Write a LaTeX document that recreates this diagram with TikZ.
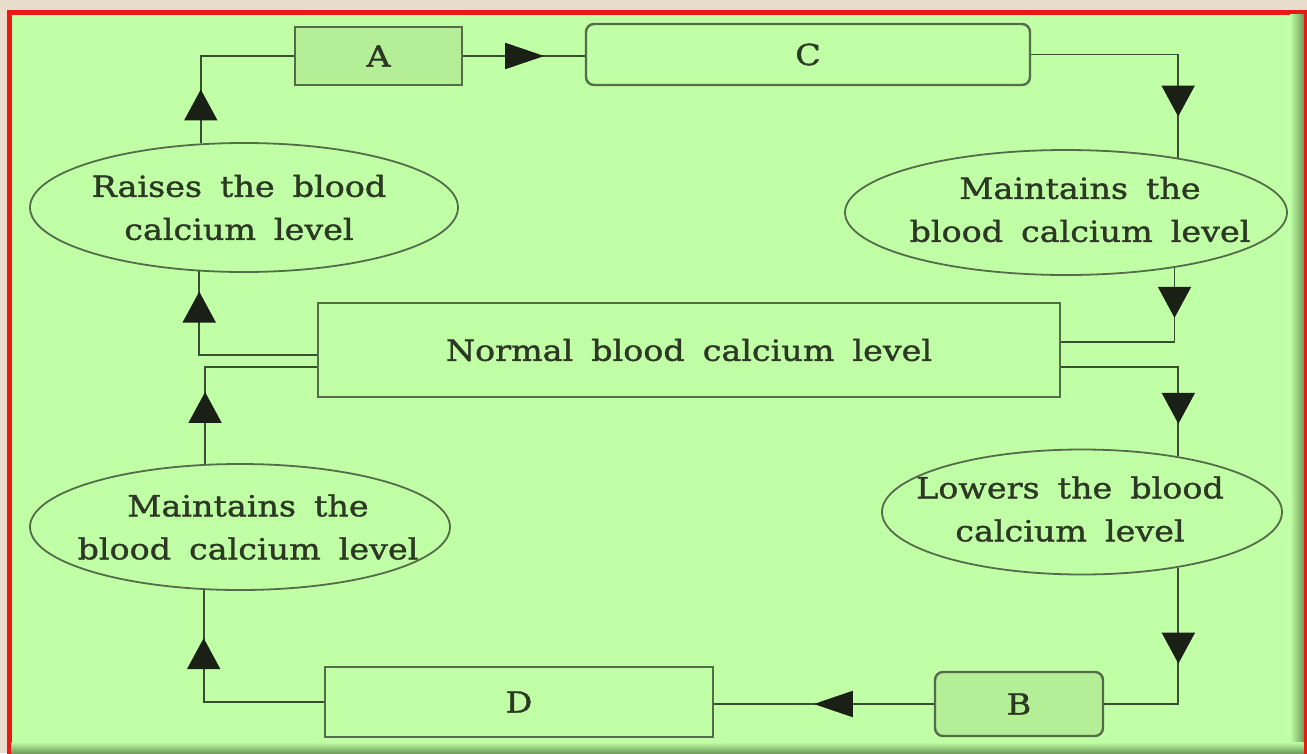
\documentclass[tikz,border=0pt]{standalone}
\usepackage{fontspec}
\setmainfont{DejaVu Serif}[FakeStretch=1.15,FakeBold=1.3]
\usepackage{tikz}
\usetikzlibrary{arrows.meta,shapes}
\usetikzlibrary{positioning,decorations.markings}
\definecolor{paperclr}{RGB}{233,222,204}
\definecolor{frameclr}{RGB}{236,24,20}
\definecolor{panelclr}{RGB}{192,255,165}
\definecolor{shadeclr}{RGB}{110,158,90}
\definecolor{boxclr}{RGB}{180,238,150}
\definecolor{edgeclr}{RGB}{84,108,74}
\definecolor{wireclr}{RGB}{58,78,50}
\definecolor{tipclr}{RGB}{26,32,22}
\definecolor{inkclr}{RGB}{44,56,36}
\newcommand{\diagfont}{\fontsize{29}{43}\selectfont\spaceskip 18pt\relax}
\tikzstyle{oval} = [draw=edgeclr, ellipse, line width=1.8pt, inner sep=0pt]
\tikzstyle{block} = [draw=edgeclr, rectangle, line width=2.4pt, inner sep=0pt,
    text=inkclr]
\tikzstyle{blurb} = [text=inkclr, align=center, inner sep=0pt]
\tikzstyle{wire} = [draw=wireclr, line width=1.9pt]
\tikzset{
  upflow/.style={postaction={decorate}, decoration={markings,
    mark=at position #1 with {\arrow{Triangle[length=31pt,width=33pt,color=tipclr]}}}},
  sideflow/.style={postaction={decorate}, decoration={markings,
    mark=at position #1 with {\arrow{Triangle[length=39pt,width=26pt,color=tipclr]}}}}
}

\begin{document}
\begin{tikzpicture}[x=1pt, y=-1pt, font=\diagfont]
  \useasboundingbox (0,0) rectangle (1307,753);
  % Frame
  \fill[paperclr] (0,0) rectangle (1307,753);
  \draw[frameclr, line width=4.5pt, fill=panelclr] (9.5,12.5) rectangle (1305.5,770);
  \shade[left color=panelclr, right color=shadeclr] (1290,14.5) rectangle (1303.5,753);
  \shade[top color=panelclr, bottom color=shadeclr] (11.5,742) rectangle (1303.5,753);

  % Place nodes
  \node [block, fill=boxclr, minimum width=167pt, minimum height=58pt] (boxA)
    at (378.5,56) {A};
  \node [block, fill=panelclr, rounded corners=8pt, minimum width=444pt,
    minimum height=61pt] (boxC) at (808,54.5) {C};
  \node [block, fill=panelclr, minimum width=742pt, minimum height=94pt] (normal)
    at (689,350) {Normal blood calcium level};
  \node [block, fill=panelclr, minimum width=388pt, minimum height=70pt] (boxD)
    at (519,702) {D};
  \node [block, fill=boxclr, rounded corners=8pt, minimum width=168pt,
    minimum height=64pt] (boxB) at (1019,704) {B};

  \node [oval, minimum width=428pt, minimum height=129pt] (raise) at (244,207.5) {};
  \node [oval, minimum width=442pt, minimum height=125pt] (maintR) at (1066,212.5) {};
  \node [oval, minimum width=400pt, minimum height=125pt] (lower) at (1082,512) {};
  \node [oval, minimum width=420pt, minimum height=126pt] (maintL) at (240,527) {};

  \node [blurb] (raisetxt) at ([xshift=-5pt]raise.center)
    {Raises the blood\\calcium level};
  \node [blurb] (maintRtxt) at ([xshift=14pt,yshift=3pt]maintR.center)
    {Maintains the\\blood calcium level};
  \node [blurb] (lowertxt) at ([xshift=-12pt,yshift=3pt]lower.center)
    {Lowers the blood\\calcium level};
  \node [blurb] (maintLtxt) at ([xshift=8pt]maintL.center)
    {Maintains the\\blood calcium level};

  % Draw edges
  \draw [wire, upflow=54pt] (raise.124) |- (boxA.west);
  \draw [wire, sideflow=81pt] (boxA.east) -- (boxA.east -| boxC.west);
  \draw [wire, upflow=209pt] (boxC.east) -| (maintR.26);
  \draw [wire, upflow=50pt] (maintR.-27) |- ([yshift=8pt]normal.east);
  \draw [wire, upflow=174pt] ([yshift=-17pt]normal.east) -| (lower.30);
  \draw [wire, upflow=96pt] (lower.-30) |- (boxB.east);
  \draw [wire, sideflow=120pt] (boxB.west) -- (boxB.west -| boxD.east);
  \draw [wire, upflow=184pt] (boxD.west) -| (maintL.240.6);
  \draw [wire, upflow=72pt] (maintL.119.4) |- ([yshift=-17pt]normal.west);
  \draw [wire, upflow=181pt] ([yshift=-5pt]normal.west) -| (raise.235);
\end{tikzpicture}
\end{document}
